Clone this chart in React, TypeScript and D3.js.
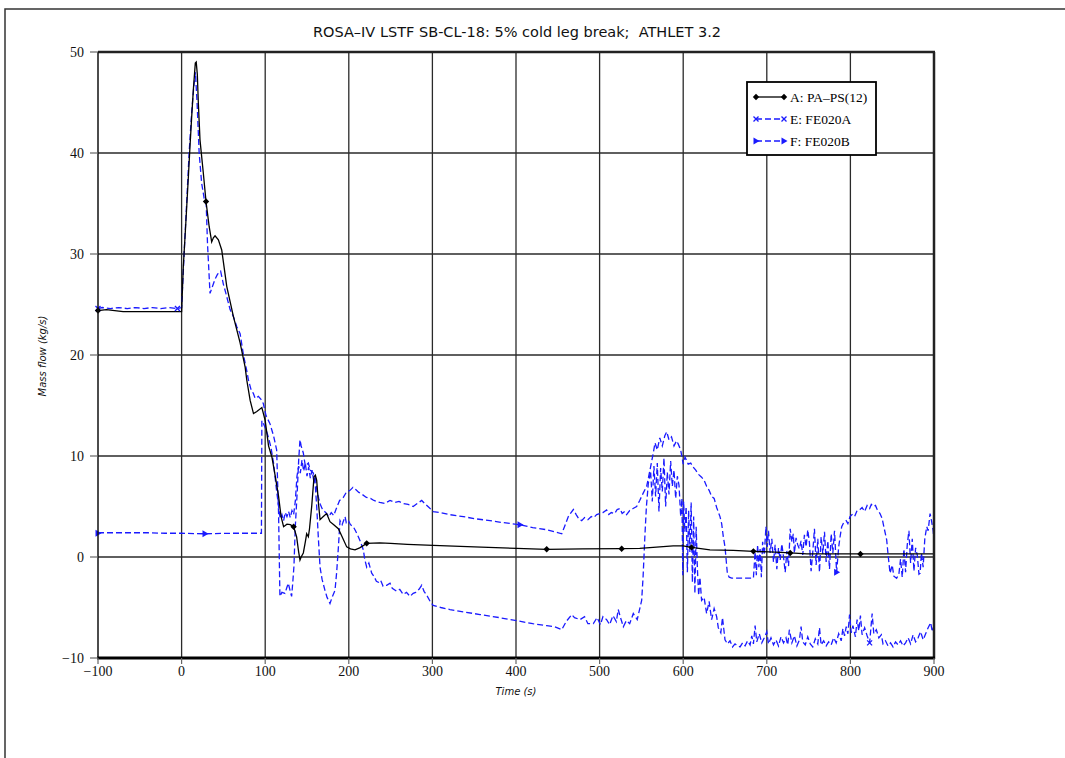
import React from "react";
import * as d3 from "d3";

type P = [number, number];

const TITLE = "ROSA\u2013IV LSTF SB-CL-18: 5% cold leg break;  ATHLET 3.2";
const X_LABEL = "Time (s)";
const Y_LABEL = "Mass flow (kg/s)";
const xTicks = [-100, 0, 100, 200, 300, 400, 500, 600, 700, 800, 900];
const yTicks = [-10, 0, 10, 20, 30, 40, 50];
const legendNames = ["A: PA\u2013PS(12)", "E: FE020A", "F: FE020B"];

const seriesA: P[] = [
  [-100, 24.4], [-90, 24.5], [-80, 24.4], [-70, 24.3], [-50, 24.3], [-30, 24.3], [-10, 24.3], [0, 24.3],
  [2, 28.7], [5, 33], [8, 37.5], [10, 40.6], [12, 43.5], [14, 46.2], [16.4, 48.9], [17.5, 49], [18.8, 47.8],
  [20, 45], [22, 41.3], [26, 38], [29.2, 35.2], [33, 32.7], [36, 31.2], [38, 31.6], [40, 31.8], [44, 31.4],
  [48, 30.4], [54, 26.8], [62, 23.8], [70, 21.2], [76, 18.8], [78, 17.5], [82, 15.5], [86, 14.2], [90, 14.4],
  [96, 14.8], [100, 13.5], [104, 11], [108, 9.9], [112, 8], [116, 6], [119, 4], [122, 3.0], [126, 3.25],
  [130, 3.2], [134, 3.0], [137.6, 2.0], [140, 0.5], [141.6, -0.3], [143, 0], [145.6, 0.4], [148, 1.5],
  [149.6, 2.3], [151.6, 2.0], [153, 2.8], [155.6, 5.0], [158.4, 7.95], [160, 8.1], [161.6, 7.6], [163.5, 5.5],
  [165.6, 3.7], [169.5, 4.0], [173.5, 4.3], [177.5, 3.5], [182, 3.2], [187.5, 2.8], [192, 2.0], [197.5, 1.0],
  [202, 0.8], [207.4, 0.7], [213, 0.9], [221.4, 1.35], [237, 1.4], [250, 1.35], [270, 1.25], [301, 1.15],
  [350, 1.0], [400.8, 0.85], [436.7, 0.76], [480, 0.8], [526.4, 0.82], [548, 0.85], [572, 1.0], [588, 1.1],
  [600, 1.1], [610, 0.95], [632, 0.7], [660, 0.65], [684, 0.56], [710, 0.48], [728, 0.4], [748, 0.3],
  [780, 0.3], [812, 0.3], [850, 0.3], [900, 0.3],
];
const markersA: P[] = [
  [-100, 24.4], [29.2, 35.2], [134, 3.0], [221.4, 1.35], [436.7, 0.76], [526.4, 0.82], [610, 0.95],
  [684, 0.56], [728, 0.4], [812, 0.3],
];

const seriesE: P[] = [
  [-100, 24.6], [-95, 24.7], [-85, 24.6], [-75, 24.7], [-65, 24.6], [-55, 24.7], [-45, 24.6], [-35, 24.7],
  [-25, 24.6], [-15, 24.7], [-5, 24.6], [0, 24.7], [3, 30], [6, 35], [9, 40], [12, 44], [14.5, 46.5],
  [16.5, 48.0], [18.5, 45], [21, 40], [24, 37], [27, 35.5], [29.4, 35.0], [31, 31], [34, 26.1], [37, 26.8],
  [40, 27.5], [43, 28], [46.7, 28.3], [50, 27], [53, 26.1], [58, 24.5], [62, 23.8], [66, 22.8], [70, 22.1],
  [74, 20], [77.8, 18.5], [80, 17.5], [83, 16.6], [85.8, 16.2], [88, 15.7], [91.8, 15.9], [95, 15.6],
  [97.7, 15.2], [101, 14], [105.7, 13.2], [110, 12], [113.7, 10.6], [115, 7], [116, 4.3], [117.6, -3.9],
  [120, -3.5], [123.6, -3.6], [126, -3.0], [127.6, -2.6], [130, -3.4], [131.6, -3.9], [133, -2.5],
  [134.4, -0.9], [136, 3], [138.4, 6.6], [140, 9.5], [141.6, 11.6], [143, 11.0], [145.6, 10.3], [148, 9.0],
  [151.6, 9.3], [154, 8.6], [157.6, 8.3], [160, 7.0], [161.6, 5.0], [163.5, 2.0], [165.6, -1.0], [168, -2.2],
  [171.5, -3.3], [174, -4.0], [177.5, -4.6], [180, -4.0], [183.5, -3.3], [185.5, -1.5], [187.5, 0.9],
  [189.5, 3.6], [192, 3.2], [195.5, 4.0], [197, 3.4], [199.5, 3.6], [202, 3.2], [205.4, 3.0], [208, 2.6],
  [211.4, 2.0], [214, 1.5], [217.4, 0.7], [219, -0.2], [221.4, -1.0], [224, -0.6], [227.4, -1.6], [230, -1.9],
  [233, -2.4], [235.4, -2.5], [238, -2.3], [241, -2.9], [245.3, -2.8], [249.3, -2.6], [252, -3.1],
  [257.3, -3.4], [261, -3.2], [265, -3.7], [269, -3.5], [273.2, -3.9], [277, -3.6], [280, -3.5], [284, -3.2],
  [287.2, -2.8], [290, -3.4], [294, -3.9], [298, -4.5], [301, -4.8], [310, -5.0], [321, -5.2], [335, -5.4],
  [357, -5.7], [380, -6.0], [400.8, -6.3], [420, -6.6], [436.7, -6.8], [446, -6.9], [454.7, -7.2], [460, -6.4],
  [466.6, -5.7], [470, -6.0], [476.6, -6.2], [482, -5.9], [486, -6.6], [492.5, -6.6], [497, -6.0], [501, -6.7],
  [504, -5.9], [508.4, -6.2], [512, -6.7], [516, -5.8], [520, -6.4], [522.3, -5.2], [525, -6.0], [528.4, -6.9],
  [532, -6.3], [536, -6.6], [540.3, -5.6], [545, -6.2], [550.3, -4.3], [552, -2], [554.3, 2.3], [556, 5],
  [558.3, 7.3], [561, 8.5], [563, 5.5], [565, 9.0], [567, 6.0], [569, 9.3], [571, 4.5], [573, 8.8], [575, 6.5],
  [577, 9.8], [579, 5.0], [581, 8.4], [583, 6.2], [585, 9.5], [587, 7.0], [589, 8.6], [591, 5.8], [593, 8.0],
  [595, 7.1], [597, 4.0], [598.5, 5.8], [599.5, -1.8], [600.5, 5.5], [602, 2.5], [603.5, 5.0], [605, -1.5],
  [606.5, 4.6], [608, 0.5], [609.5, 5.4], [611, -2.5], [612.5, 4.0], [614, -3.6], [615.5, 3.0], [617, -1.2],
  [618.5, -3.8], [620, -2.0], [622, -4.3], [625, -4.0], [628, -5.6], [631, -4.4], [634, -6.2], [637, -5.1],
  [640, -5.9], [642, -7.0], [645, -7.5], [647, -6.0], [650, -8.2], [653, -8.6], [656, -8.3], [659, -8.9],
  [662, -8.6], [665, -8.8], [668, -8.9], [671, -8.5], [674, -8.8], [677, -8.3], [680, -8.7], [682, -7.8],
  [684, -8.6], [686, -6.8], [688, -8.4], [691, -7.6], [694, -8.5], [697, -8.0], [700, -7.4], [702, -8.6],
  [705, -8.0], [708, -8.7], [711, -8.2], [714, -8.8], [717, -7.9], [720, -8.5], [723, -8.0], [725, -8.7],
  [727, -7.2], [730, -8.5], [733, -7.8], [736, -8.8], [739, -8.2], [741, -6.9], [743, -8.4], [746, -8.7],
  [749, -7.9], [752, -8.6], [755, -8.9], [758, -8.1], [761, -8.6], [763, -7.0], [765, -8.7], [768, -8.3],
  [771, -8.8], [774, -8.4], [777, -8.7], [780, -8.0], [783, -8.5], [786, -7.6], [789, -8.3], [791, -7.1],
  [793, -7.8], [795, -6.9], [797, -7.6], [799, -5.7], [801, -7.5], [803, -6.8], [806, -7.9], [808, -6.2],
  [810, -7.3], [812, -5.8], [814, -7.7], [817, -7.0], [820, -7.8], [823, -8.5], [826, -5.6], [828, -7.6],
  [831, -7.2], [834, -8.0], [837, -7.7], [839, -8.6], [842, -8.3], [845, -8.8], [848, -8.5], [851, -8.9],
  [854, -8.4], [857, -8.7], [860, -8.3], [863, -8.8], [866, -8.5], [869, -8.0], [872, -8.6], [875, -7.7],
  [878, -8.4], [881, -8.0], [884, -7.4], [887, -8.2], [890, -7.6], [893, -7.0], [896, -6.5], [898, -7.4],
  [900, -6.8],
];
const markersE: P[] = [[-100, 24.6], [-5, 24.6], [823, -8.5]];

const seriesF: P[] = [
  [-100, 2.4], [-80, 2.4], [-60, 2.4], [-40, 2.4], [-20, 2.35], [0, 2.35], [28, 2.3], [60, 2.35], [95.5, 2.35],
  [96, 13.5], [98, 13.2], [101, 12.6], [104, 11.8], [107, 10.8], [110, 9.3], [113, 7.0], [116, 5.0], [118, 3.8],
  [120, 4.2], [122, 3.6], [124, 4.4], [126, 4.0], [128, 4.5], [130, 3.9], [132, 4.6], [134, 4.2], [136, 5.5],
  [138, 8.0], [140, 9.0], [142, 8.3], [144, 9.6], [146, 8.5], [148, 9.3], [150, 8.0], [152, 8.9], [154, 7.8],
  [156, 8.6], [158, 7.6], [160, 7.9], [162, 6.5], [164, 5.8], [166, 5.2], [168, 4.8], [170, 4.6], [173.5, 4.3],
  [176, 4.0], [179, 4.4], [182, 4.1], [185.5, 4.9], [189, 5.6], [193.5, 5.9], [197, 6.4], [201.5, 6.6],
  [205, 6.9], [208, 6.7], [212, 6.4], [216, 6.2], [221, 5.9], [226, 5.8], [230, 5.6], [237, 5.4], [243, 5.3],
  [249.3, 5.6], [255, 5.4], [260, 5.5], [265, 5.3], [271, 5.2], [277, 5.0], [282, 5.3], [287.2, 5.6], [292, 5.2],
  [296, 4.9], [301, 4.5], [310, 4.4], [320, 4.2], [337, 4.0], [350, 3.8], [368.9, 3.6], [385, 3.4],
  [404.8, 3.2], [420, 2.9], [436.7, 2.7], [446, 2.5], [454.7, 2.3], [458, 3.0], [462.6, 4.0], [465, 4.3],
  [468.6, 4.7], [472, 4.2], [475, 3.8], [478.6, 3.6], [482, 3.9], [486, 3.7], [490, 4.0], [493, 3.9],
  [496.5, 4.2], [500, 4.3], [504, 4.4], [508.4, 4.65], [511, 4.2], [514, 4.4], [518, 4.3], [521, 4.7],
  [524.4, 4.8], [527, 4.3], [530, 4.5], [532.3, 4.2], [536, 4.6], [540, 4.8], [544.3, 5.0], [548, 5.6],
  [552, 6.3], [556.3, 7.0], [560, 8.5], [564, 10.2], [566.3, 11.3], [569, 10.6], [572, 11.8], [575, 11.0],
  [578, 12.0], [580.3, 12.4], [583, 11.6], [586, 11.9], [589, 11.0], [592, 11.5], [594, 11.2], [597, 10.6],
  [600, 9.2], [602.2, 9.9], [606, 9.2], [609, 9.3], [612, 8.9], [615, 8.6], [618, 8.2], [622, 7.9], [625, 7.6],
  [628, 7.0], [631, 6.6], [634, 6.0], [637, 5.8], [640, 4.9], [644, 4.0], [646, 3.3], [648, 2.0], [650, 1.0],
  [652.8, -1.6], [655, -2.0], [658, -2.1], [665, -2.1], [675, -2.1], [684, -2.1], [686, 0.5], [687.5, -1.8],
  [689, 1.2], [690.5, -1.0], [692, 0.8], [693.5, -2.0], [695, 1.5], [697, 0.2], [699, 3.0], [700.5, 1.0],
  [702, 2.6], [704, 0.4], [706, 1.8], [708, -0.5], [710, 1.2], [712, -1.2], [714, 0.9], [716, -0.3],
  [718, 1.3], [720, 0.0], [722, -1.5], [724, 0.6], [726, -0.9], [728, 2.8], [730, 1.5], [731.7, 2.3],
  [733, 0.4], [735, 1.9], [737, 1.2], [739, 0.8], [741, 1.6], [743, 0.2], [745, 2.2], [747, 1.0], [749, 2.7],
  [751, 1.4], [753, -1.4], [755, 0.5], [757, 2.8], [759, -0.8], [761, 1.8], [763, -1.5], [765, 2.0],
  [767, 0.3], [769, 2.5], [771, -0.5], [773, 1.6], [775, -1.2], [777, 2.3], [779, 0.4], [781, 2.6],
  [783.5, -1.5], [786, 1.0], [788, 2.2], [789.6, 3.0], [792, 3.4], [795, 3.6], [797, 3.3], [799.5, 4.0],
  [802, 4.2], [805, 4.0], [808, 4.6], [811.5, 4.7], [814, 4.9], [817, 4.5], [820, 5.1], [823, 4.8], [825, 5.2],
  [827.4, 5.0], [830, 5.1], [832, 4.7], [835.4, 4.3], [838, 3.8], [840, 3.0], [843.4, 1.7], [845, 0.3],
  [847.4, -1.6], [850, -0.8], [852, -1.9], [855.3, -2.1], [858, -1.7], [860, -0.2], [862, -2.0], [864, 0.8],
  [866, -1.5], [868, 1.2], [870, 2.6], [872, -0.6], [874, 1.8], [876, -1.4], [878, 0.9], [880, 0.2],
  [882, -1.7], [883.4, -1.6], [885, 0.4], [887, -1.0], [889, 1.8], [891.3, 3.0], [893, 2.6], [895.3, 4.3],
  [897, 3.6], [899, 2.6], [900, 1.6],
];
const markersF: P[] = [[-100, 2.35], [28, 2.3], [404.8, 3.2], [783.5, -1.5]];

const W = 1065;
const H = 758;
const BLUE = "#1a1aff";

const x = d3.scaleLinear().domain([-100, 900]).range([98, 934]);
const y = d3.scaleLinear().domain([-10, 50]).range([658, 52]);
const line = d3.line<P>().x((d) => x(d[0])).y((d) => y(d[1]));

const Diamond = ({ cx, cy }: { cx: number; cy: number }) => (
  <path d={`M${cx},${cy - 3.2}L${cx + 3.2},${cy}L${cx},${cy + 3.2}L${cx - 3.2},${cy}Z`} fill="#000" />
);
const Cross = ({ cx, cy }: { cx: number; cy: number }) => (
  <path d={`M${cx - 2.5},${cy - 2.5}L${cx + 2.5},${cy + 2.5}M${cx - 2.5},${cy + 2.5}L${cx + 2.5},${cy - 2.5}`} stroke={BLUE} strokeWidth={1.3} />
);
const Tri = ({ cx, cy }: { cx: number; cy: number }) => (
  <path d={`M${cx - 2.5},${cy - 3.5}L${cx + 3.5},${cy}L${cx - 2.5},${cy + 3.5}Z`} fill={BLUE} />
);

export default function App() {
  const serif = "'Liberation Serif', 'DejaVu Serif', serif";
  const sans = "'DejaVu Sans', 'Liberation Sans', sans-serif";
  return (
    <svg width={W} height={H} style={{ position: "absolute", left: 0, top: 0, background: "#fff" }}>
      <rect x={0} y={0} width={W} height={H} fill="#fff" />
      {/* outer frame */}
      <path d={`M5,${H}V9H${W}`} fill="none" stroke="#333" strokeWidth={1.5} />
      <text x={517} y={37} textAnchor="middle" fontFamily={sans} fontSize={14.5} fill="#111" style={{ whiteSpace: "pre" }}>{TITLE}</text>

      {/* grid */}
      {xTicks.slice(1, -1).map((t) => (
        <line key={"gx" + t} x1={x(t)} x2={x(t)} y1={52} y2={658} stroke="#2a2a2a" strokeWidth={1.3} />
      ))}
      {yTicks.slice(1, -1).map((t) => (
        <line key={"gy" + t} x1={98} x2={934} y1={y(t)} y2={y(t)} stroke="#2a2a2a" strokeWidth={1.3} />
      ))}

      {/* series */}
      <path d={line(seriesE) || ""} fill="none" stroke={BLUE} strokeWidth={1.3} strokeDasharray="6,3" />
      <path d={line(seriesF) || ""} fill="none" stroke={BLUE} strokeWidth={1.3} strokeDasharray="6,3" />
      <path d={line(seriesA) || ""} fill="none" stroke="#000" strokeWidth={1.3} />
      {markersE.map((d, i) => <Cross key={"me" + i} cx={x(d[0])} cy={y(d[1])} />)}
      {markersF.map((d, i) => <Tri key={"mf" + i} cx={x(d[0])} cy={y(d[1])} />)}
      {markersA.map((d, i) => <Diamond key={"ma" + i} cx={x(d[0])} cy={y(d[1])} />)}

      {/* axes / border */}
      <line x1={98} x2={935} y1={52} y2={52} stroke="#222" strokeWidth={2.5} />
      <line x1={934} x2={934} y1={52} y2={659} stroke="#222" strokeWidth={2.5} />
      <line x1={98} x2={98} y1={52} y2={659} stroke="#111" strokeWidth={1.5} />
      <line x1={97} x2={935} y1={658} y2={658} stroke="#000" strokeWidth={3} />

      {yTicks.map((t) => (
        <g key={"yt" + t}>
          <line x1={90} x2={98} y1={y(t)} y2={y(t)} stroke="#666" strokeWidth={1.2} />
          <text x={84} y={y(t) + 5} textAnchor="end" fontFamily={serif} fontSize={14} fill="#111">
            {t < 0 ? "\u2212" + Math.abs(t) : String(t)}
          </text>
        </g>
      ))}
      {xTicks.map((t) => (
        <g key={"xt" + t}>
          <line x1={x(t)} x2={x(t)} y1={658} y2={664} stroke="#666" strokeWidth={1.2} />
          <text x={x(t)} y={676} textAnchor="middle" fontFamily={serif} fontSize={14} fill="#111">
            {t < 0 ? "\u2212" + Math.abs(t) : String(t)}
          </text>
        </g>
      ))}
      <text x={516} y={695} textAnchor="middle" fontFamily={sans} fontStyle="italic" fontSize={10} fill="#111">{X_LABEL}</text>
      <text transform="translate(46,356) rotate(-90)" textAnchor="middle" fontFamily={sans} fontStyle="italic" fontSize={10} fill="#111">{Y_LABEL}</text>

      {/* legend */}
      <rect x={747} y={82} width={129} height={73} fill="#fff" stroke="#000" strokeWidth={1.8} />
      <line x1={756} x2={784} y1={97} y2={97} stroke="#000" strokeWidth={1.3} />
      <Diamond cx={756} cy={97} />
      <Diamond cx={784} cy={97} />
      <text x={790} y={102} fontFamily={serif} fontSize={13.5} fill="#000">{legendNames[0]}</text>
      <line x1={756} x2={784} y1={119} y2={119} stroke={BLUE} strokeWidth={1.3} strokeDasharray="6,3" />
      <Cross cx={756} cy={119} />
      <Cross cx={784} cy={119} />
      <text x={790} y={124} fontFamily={serif} fontSize={13.5} fill="#000">{legendNames[1]}</text>
      <line x1={756} x2={784} y1={141} y2={141} stroke={BLUE} strokeWidth={1.3} strokeDasharray="6,3" />
      <Tri cx={756} cy={141} />
      <Tri cx={784} cy={141} />
      <text x={790} y={146} fontFamily={serif} fontSize={13.5} fill="#000">{legendNames[2]}</text>
    </svg>
  );
}
